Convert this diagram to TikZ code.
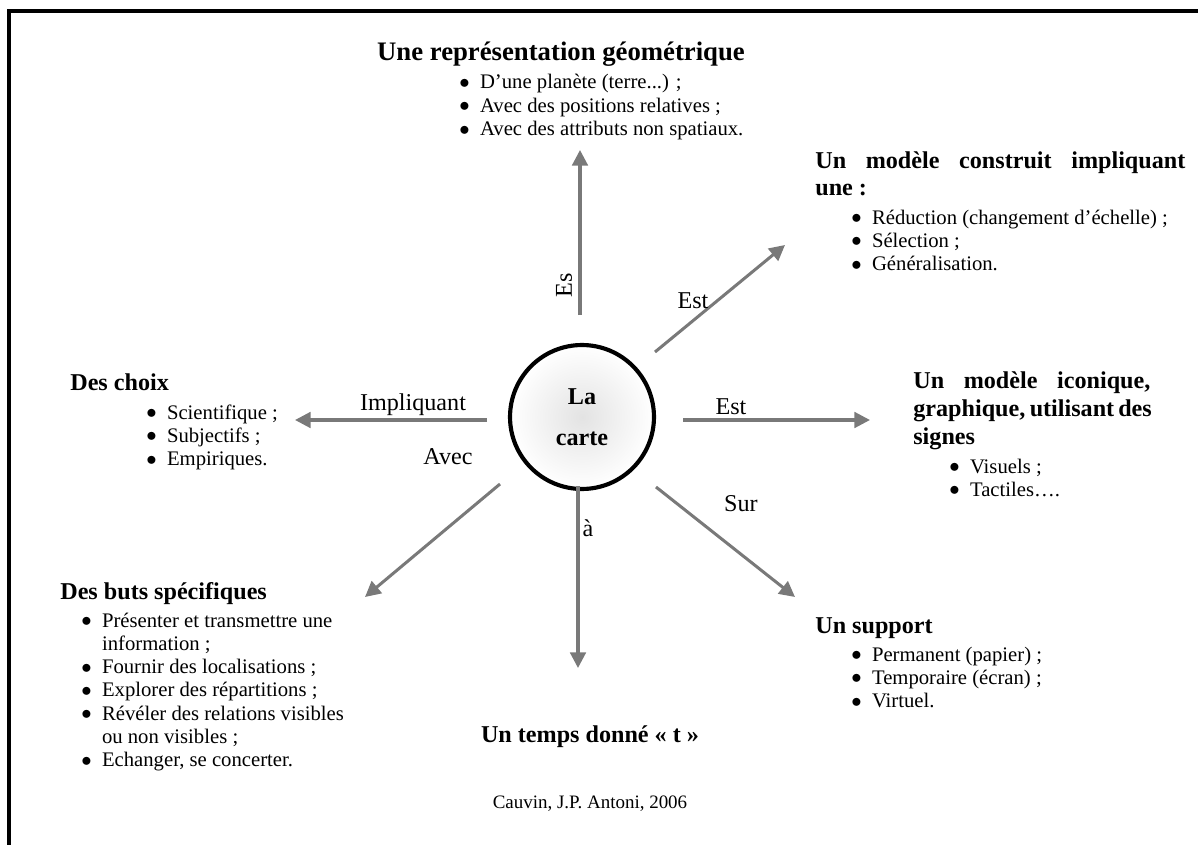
\documentclass[tikz,border=0pt]{standalone}
\usepackage{fontspec}
\setmainfont{Liberation Serif}
\usetikzlibrary{arrows.meta}
\newcommand{\bodyf}{\fontsize{12}{13.5}\selectfont}
\newcommand{\titf}{\fontsize{14}{16.24}\selectfont\bfseries}
\newcommand{\bitem}{\makebox[12pt][l]{\raisebox{0.2pt}{$\bullet$}}}
\newcommand{\bcont}{\hspace*{12pt}}
\tikzset{
  link/.style={draw=gray!95!black, line width=1.75pt, -{Triangle[length=9pt,width=9pt]}},
  lbl/.style={font=\fontsize{14}{16}\selectfont, inner sep=0pt},
  ttl/.style={anchor=base west, inner sep=0pt, font=\titf},
  lst/.style={anchor=base west, inner sep=0pt, font=\bodyf},
}
\begin{document}
\begin{tikzpicture}[x=0.58pt,y=-0.58pt]
\useasboundingbox (0,0) rectangle (1198,845);
\draw[line width=2.4pt] (9,900) -- (9,11) -- (1250,11);

% centre
\node[circle, draw, line width=2.4pt, minimum size=83.5pt, inner sep=0pt,
      inner color=gray!22, outer color=white,
      align=center, font=\fontsize{14}{24}\selectfont\bfseries] (c) at (582,417) {La\\carte};

% arrow ends
\coordinate (uS) at (580,315); \coordinate (uE) at (580,150);
\coordinate (urS) at (655,352); \coordinate (urE) at (785,245);
\coordinate (rS) at (683,420); \coordinate (rE) at (870,420);
\coordinate (drS) at (656,487); \coordinate (drE) at (795,597);
\coordinate (dS) at (578,486); \coordinate (dE) at (578,668);
\coordinate (dlS) at (500,484); \coordinate (dlE) at (365,597);
\coordinate (lS) at (487,420); \coordinate (lE) at (295,420);

\draw[link] (uS) -- (uE);
\draw[link] (urS) -- (urE);
\draw[link] (rS) -- (rE);
\draw[link] (drS) -- (drE);
\draw[link] (dS) -- (dE);
\draw[link] (dlS) -- (dlE);
\draw[link] (lS) -- (lE);

% labels
\node[lbl, rotate=90] (lEs) at (564,285) {Es};
\node[lbl] (lEst1) at (693,301) {Est};
\node[lbl] (lEst2) at (731,407) {Est};
\node[lbl] (lSur) at (741,504) {Sur};
\node[lbl] (la) at (588,528) {à};
\node[lbl] (lAvec) at (448,457) {Avec};
\node[lbl] (lImp) at (413,405) {Impliquant};

% top
\node[anchor=base, inner sep=0pt, font=\fontsize{15.5}{18}\selectfont\bfseries] (t1) at (561,61) {Une représentation géométrique};
\node[lst] (t1l) at (459,89) {\begin{tabular}[t]{@{}l@{}}
\bitem D’une planète (terre...) ;\\
\bitem Avec des positions relatives ;\\
\bitem Avec des attributs non spatiaux.
\end{tabular}};

% upper right
\node[ttl] (t2) at (815,168) {\begin{tabular}[t]{@{}l@{}}
\makebox[214.6pt][s]{Un modèle construit impliquant}\\
une :
\end{tabular}};
\node[lst] (t2l) at (851,224) {\begin{tabular}[t]{@{}l@{}}
\bitem Réduction (changement d’échelle) ;\\
\bitem Sélection ;\\
\bitem Généralisation.
\end{tabular}};

% right
\node[ttl] (t3) at (913,388) {\begin{tabular}[t]{@{}l@{}}
\makebox[137.5pt][s]{Un modèle iconique,}\\
\makebox[137.5pt][s]{graphique, utilisant des}\\
signes
\end{tabular}};
\node[lst] (t3l) at (949,473) {\begin{tabular}[t]{@{}l@{}}
\bitem Visuels ;\\
\bitem Tactiles….
\end{tabular}};

% left
\node[ttl] (t4) at (70,390) {Des choix};
\node[lst] (t4l) at (146,419) {\begin{tabular}[t]{@{}l@{}}
\bitem Scientifique ;\\
\bitem Subjectifs ;\\
\bitem Empiriques.
\end{tabular}};

% lower left
\node[ttl] (t5) at (60,599) {Des buts spécifiques};
\node[lst] (t5l) at (81,627) {\begin{tabular}[t]{@{}l@{}}
\bitem Présenter et transmettre une\\
\bcont information ;\\
\bitem Fournir des localisations ;\\
\bitem Explorer des répartitions ;\\
\bitem Révéler des relations visibles\\
\bcont ou non visibles ;\\
\bitem Echanger, se concerter.
\end{tabular}};

% lower right
\node[ttl] (t6) at (815,633) {Un support};
\node[lst] (t6l) at (851,661) {\begin{tabular}[t]{@{}l@{}}
\bitem Permanent (papier) ;\\
\bitem Temporaire (écran) ;\\
\bitem Virtuel.
\end{tabular}};

% bottom
\node[anchor=base, inner sep=0pt, font=\titf] (t7) at (590,742) {Un temps donné « t »};
\node[anchor=base, inner sep=0pt, font=\fontsize{11}{13}\selectfont] (src) at (590,808) {Cauvin, J.P. Antoni, 2006};
\end{tikzpicture}
\end{document}
